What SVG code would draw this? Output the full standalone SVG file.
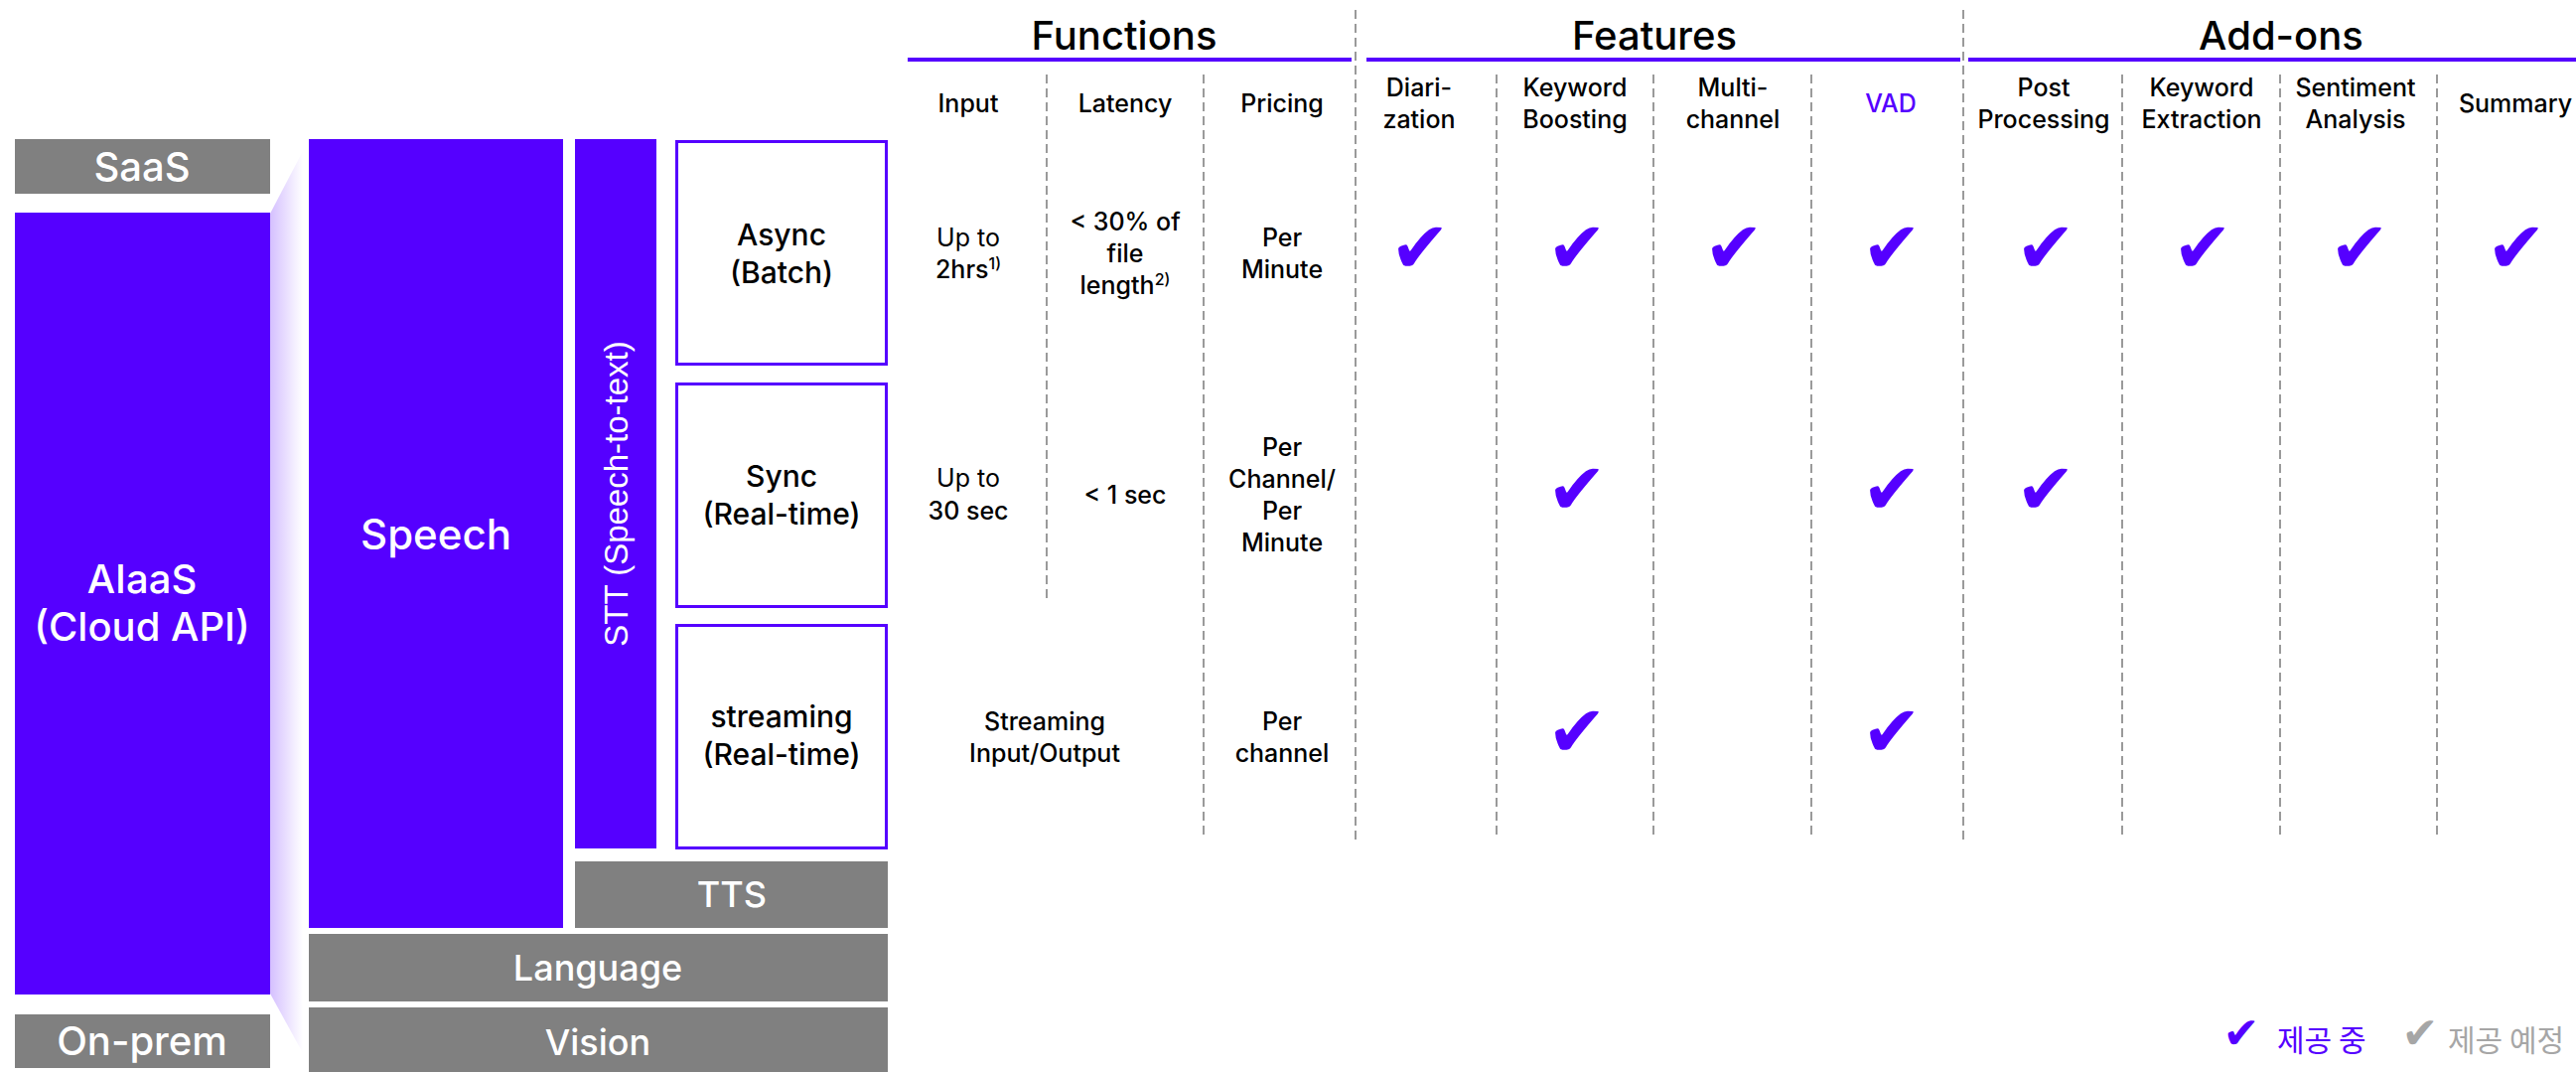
<svg xmlns="http://www.w3.org/2000/svg" width="2594" height="1079" viewBox="0 0 2594 1079">
<defs>
<linearGradient id="fade" x1="0" y1="0" x2="1" y2="0">
<stop offset="0" stop-color="#5500FF" stop-opacity="0.25"/>
<stop offset="1" stop-color="#5500FF" stop-opacity="0"/>
</linearGradient>
</defs>
<style>
text{font-family:Inter,"Noto Sans","Noto Sans CJK KR",sans-serif;font-weight:500;text-anchor:middle}
.purple{fill:#5500FF}
.gray{fill:#808080}
.wl{fill:#fff;font-size:40px}
.wg{fill:#fff;font-size:36px}
.bl{fill:#000;font-size:30px}
.title{fill:#000;font-size:40px}
.hd{fill:#000;font-size:25px}
.cell{fill:#000;font-size:25px}
.light{font-weight:400}
.sup{font-size:16px}
.chk{font-family:"DejaVu Sans",sans-serif;font-size:72px;fill:#5500FF;font-weight:400}
.dash{stroke:#9a9a9a;stroke-width:2;stroke-dasharray:9 5;fill:none}
.uline{stroke:#5500FF;stroke-width:4}
.obox{fill:#fff;stroke:#5500FF;stroke-width:3}
</style>

<g id="shade"><polygon points="272,215 305,152 305,1060 272,1000" fill="url(#fade)"/></g>

<g id="saas"><rect class="gray" x="15" y="140" width="257" height="55"/><text class="wl" x="143" y="182">SaaS</text></g>
<g id="aiaas"><rect class="purple" x="15" y="214" width="257" height="787"/><text class="wl" x="143" y="597">AIaaS</text><text class="wl" x="143" y="645">(Cloud API)</text></g>
<g id="onprem"><rect class="gray" x="15" y="1021" width="257" height="54"/><text class="wl" x="143" y="1062">On-prem</text></g>

<g id="speech"><rect class="purple" x="311" y="140" width="256" height="794"/><text class="wl" style="font-size:42px" x="439" y="553">Speech</text></g>
<g id="stt"><rect class="purple" x="579" y="140" width="82" height="714"/><text x="0" y="0" transform="translate(632,497) rotate(-90)" style="fill:#fff;font-family:'Liberation Sans',Arial,sans-serif;font-weight:400;font-size:33px">STT (Speech-to-text)</text></g>
<g id="async"><rect class="obox" x="681.5" y="142.5" width="211" height="224"/><text class="bl" x="787" y="247">Async</text><text class="bl" x="787" y="285">(Batch)</text></g>
<g id="sync"><rect class="obox" x="681.5" y="386.5" width="211" height="224"/><text class="bl" x="787" y="490">Sync</text><text class="bl" x="787" y="528">(Real-time)</text></g>
<g id="streaming"><rect class="obox" x="681.5" y="629.5" width="211" height="224"/><text class="bl" x="787" y="732">streaming</text><text class="bl" x="787" y="770">(Real-time)</text></g>
<g id="tts"><rect class="gray" x="579" y="867" width="315" height="67"/><text class="wg" x="737" y="913">TTS</text></g>
<g id="language"><rect class="gray" x="311" y="940" width="583" height="68"/><text class="wg" x="602" y="987">Language</text></g>
<g id="vision"><rect class="gray" x="311" y="1014" width="583" height="65"/><text class="wg" x="602" y="1062">Vision</text></g>

<g id="connectors">
<line class="uline" x1="914" y1="60" x2="1361" y2="60"/>
<line class="uline" x1="1376" y1="60" x2="1974" y2="60"/>
<line class="uline" x1="1982" y1="60" x2="2594" y2="60"/>
<line class="dash" x1="1365" y1="10" x2="1365" y2="848"/>
<line class="dash" x1="1977" y1="10" x2="1977" y2="848"/>
<line class="dash" x1="1054" y1="75" x2="1054" y2="607"/>
<line class="dash" x1="1212" y1="75" x2="1212" y2="845"/>
<line class="dash" x1="1507" y1="75" x2="1507" y2="845"/>
<line class="dash" x1="1665" y1="75" x2="1665" y2="845"/>
<line class="dash" x1="1824" y1="75" x2="1824" y2="845"/>
<line class="dash" x1="2137" y1="75" x2="2137" y2="845"/>
<line class="dash" x1="2296" y1="75" x2="2296" y2="845"/>
<line class="dash" x1="2454" y1="75" x2="2454" y2="845"/>
</g>

<g id="titles">
<text class="title" x="1132" y="50">Functions</text>
<text class="title" x="1666" y="50">Features</text>
<text class="title" x="2297" y="50">Add-ons</text>
</g>

<g id="headers">
<text class="hd" x="975" y="113">Input</text>
<text class="hd" x="1133" y="113">Latency</text>
<text class="hd" x="1291" y="113">Pricing</text>
<text class="hd" x="1429" y="97">Diari-</text><text class="hd" x="1429" y="129">zation</text>
<text class="hd" x="1586" y="97">Keyword</text><text class="hd" x="1586" y="129">Boosting</text>
<text class="hd" x="1745" y="97">Multi-</text><text class="hd" x="1745" y="129">channel</text>
<text class="hd" x="1904" y="113" style="fill:#5500FF">VAD</text>
<text class="hd" x="2058" y="97">Post</text><text class="hd" x="2058" y="129">Processing</text>
<text class="hd" x="2217" y="97">Keyword</text><text class="hd" x="2217" y="129">Extraction</text>
<text class="hd" x="2372" y="97">Sentiment</text><text class="hd" x="2372" y="129">Analysis</text>
<text class="hd" x="2533" y="113">Summary</text>
</g>

<g id="row-async">
<text class="cell light" x="975" y="248">Up to</text>
<text class="cell" x="975" y="280">2hrs<tspan class="sup" dy="-9">1)</tspan></text>
<text class="cell" x="1133" y="232">&lt; 30% of</text>
<text class="cell" x="1133" y="264">file</text>
<text class="cell" x="1133" y="296">length<tspan class="sup" dy="-9">2)</tspan></text>
<text class="cell" x="1291" y="248">Per</text>
<text class="cell" x="1291" y="280">Minute</text>
<text class="chk" x="1430" y="274">✔</text>
<text class="chk" x="1588" y="274">✔</text>
<text class="chk" x="1746" y="274">✔</text>
<text class="chk" x="1905" y="274">✔</text>
<text class="chk" x="2060" y="274">✔</text>
<text class="chk" x="2218" y="274">✔</text>
<text class="chk" x="2376" y="274">✔</text>
<text class="chk" x="2534" y="274">✔</text>
</g>

<g id="row-sync">
<text class="cell light" x="975" y="490">Up to</text>
<text class="cell" x="975" y="523">30 sec</text>
<text class="cell" x="1133" y="507">&lt; 1 sec</text>
<text class="cell" x="1291" y="459">Per</text>
<text class="cell" x="1291" y="491">Channel/</text>
<text class="cell" x="1291" y="523">Per</text>
<text class="cell" x="1291" y="555">Minute</text>
<text class="chk" x="1588" y="517">✔</text>
<text class="chk" x="1905" y="517">✔</text>
<text class="chk" x="2060" y="517">✔</text>
</g>

<g id="row-streaming">
<text class="cell" x="1052" y="735">Streaming</text>
<text class="cell" x="1052" y="767">Input/Output</text>
<text class="cell" x="1291" y="735">Per</text>
<text class="cell" x="1291" y="767">channel</text>
<text class="chk" x="1588" y="761">✔</text>
<text class="chk" x="1905" y="761">✔</text>
</g>

<g id="legend">
<text class="chk" style="font-size:44px" x="2257" y="1055">✔</text>
<text x="2293" y="1058" style="text-anchor:start;font-family:'Noto Sans CJK KR',sans-serif;font-size:30px;font-weight:400;fill:#5500FF">제공 중</text>
<text class="chk" style="font-size:44px;fill:#A6A6A6" x="2437" y="1055">✔</text>
<text x="2465" y="1058" style="text-anchor:start;font-family:'Noto Sans CJK KR',sans-serif;font-size:30px;font-weight:400;fill:#A6A6A6">제공 예정</text>
</g>
</svg>
